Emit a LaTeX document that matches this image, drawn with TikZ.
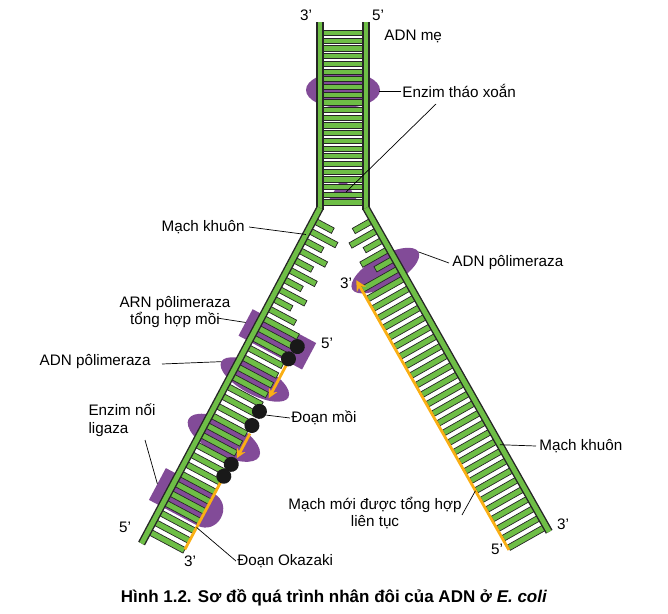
\documentclass[tikz,border=0pt]{standalone}
\usepackage{fontspec}
\setmainfont{Liberation Sans}
\usetikzlibrary{arrows.meta}
\definecolor{dnagreen}{RGB}{110,190,70}
\definecolor{enzpurple}{RGB}{130,75,152}
\definecolor{neworange}{RGB}{250,175,20}
\tikzset{
  rail/.style={line width=6.6pt, draw=black!85, postaction={draw=dnagreen, line width=4.2pt}},
  rung/.style={draw=black!85, line width=0.6pt, fill=dnagreen},
  enz/.style={fill=enzpurple},
  newline/.style={draw=neworange, line width=2.4pt},
  primer/.style={fill=black!90},
  lbl/.style={font=\fontsize{13}{15}\selectfont, inner sep=1pt},
  lead/.style={draw=black, line width=0.6pt}
}
\begin{document}
\begin{tikzpicture}[x=0.03cm, y=0.03cm]
        \useasboundingbox (0,0) rectangle (668,-614);
        % enzymes of the parent helix
        \fill[enz] (343,-90) ellipse (37 and 18);
        \fill[enz] (343,-176) -- (329,-200) -- (357,-200) -- cycle;
        \foreach \y in {33,40.7,...,204}{
          \draw[rung] (322,-\y+2.6) rectangle (364,-\y-2.6);
        }
        \draw[rail] (320,-22) -- (320,-210);
        \draw[rail] (366,-22) -- (366,-210);
        % lagging arm
        \begin{scope}[shift={(320,-208)}, rotate=242]
          \fill[enz] (121,-12) rectangle (151,60);
          \fill[enz] (182,23) ellipse (15 and 38);
          \fill[enz] (248,23) ellipse (17 and 40);
          \fill[enz] (302,-14) -- (302,40) .. controls (302,64) and (338,64) .. (338,40) -- (338,-14) -- cycle;
          \foreach \t in {14,25,...,370}{
            \pgfmathsetmacro{\len}{\t<120 ? (mod(\t,2)==0 ? 22 : 32) : 41}
            \draw[rung] (\t-3,0) rectangle (\t+3,\len);
          }
          \draw[rail] (0,0) -- (380,0);
          \draw[newline] (282,41) -- (365,41);
          \draw[newline, -{Stealth[length=8pt, width=8pt]}] (155,44) -- (192,44);
          \draw[newline, -{Stealth[length=8pt, width=8pt]}] (232,44) -- (260,44);
          \foreach \x/\y [count=\i] in {133/45,148/43,208/42,224/42,268/42,282/41}{
            \fill[primer] (\x,\y) circle (7.5);
          }
          \coordinate (polL) at (182,-15);
          \coordinate (rnapol) at (136,-12);
          \coordinate (ligase) at (320,-14);
          \coordinate (primerA) at (208,50);
          \coordinate (okazaki) at (340,41);
          \coordinate (templL) at (30,0);
        \end{scope}
        % leading arm
        \begin{scope}[shift={(366,-208)}, rotate=299.5]
          \fill[enz] (64,-14) ellipse (15 and 38);
          \foreach \t in {14,25,...,372}{
            \pgfmathsetmacro{\len}{\t<60 ? (mod(\t,2)==0 ? 22 : 32) : 43}
            \draw[rung] (\t-3,0) rectangle (\t+3,-\len);
          }
          \draw[rail] (0,0) -- (372,0);
          \draw[newline, {Stealth[length=9pt, width=9pt]}-] (58,-44) -- (368,-44);
          \coordinate (polR) at (64,24);
          \coordinate (templR) at (272,0);
          \coordinate (leading) at (300,-44);
        \end{scope}
        % labels
        \node[lbl] (p3top) at (306,-15) {3’};
        \node[lbl] (p5top) at (378,-15) {5’};
        \node[lbl, anchor=west] (parent) at (383,-36) {ADN mẹ};
        \node[lbl, anchor=west] (helicase) at (401,-91) {Enzim tháo xoắn};
        \draw[lead] (helicase.west) -- (379,-91);
        \draw[lead] (436,-104) -- (346,-192);
        \node[lbl, anchor=east] (templTop) at (246,-227) {Mạch khuôn};
        \draw[lead] (templTop.east) ++(3,0) -- (templL);
        \node[lbl, anchor=west] (polRlbl) at (451,-263) {ADN pôlimeraza};
        \draw[lead] (polRlbl.west) ++(-2,0) -- (polR);
        \node[lbl] (p3lead) at (346,-283) {3’};
        \node[lbl, align=center] (rnalbl) at (175,-312) {ARN pôlimeraza\\tổng hợp mồi};
        \draw[lead] (217,-318) -- (rnapol);
        \node[lbl] (p5mid) at (327,-343) {5’};
        \node[lbl, anchor=east] (polLlbl) at (152,-362) {ADN pôlimeraza};
        \draw[lead] (162,-364) -- (polL);
        \node[lbl, anchor=west] (primerlbl) at (290,-418) {Đoạn mồi};
        \draw[lead] (primerlbl.west) -- (primerA);
        \node[lbl, align=left] (ligaselbl) at (122,-420) {Enzim nối\\ligaza};
        \draw[lead] (145,-440) -- (ligase);
        \node[lbl, anchor=west] (templRlbl) at (538,-446) {Mạch khuôn};
        \draw[lead] (templRlbl.west) ++(-2,0) -- (templR);
        \node[lbl, align=center] (leadlbl) at (375,-513) {Mạch mới được tổng hợp\\liên tục};
        \draw[lead] (462,-515) -- (leading);
        \node[lbl] (p5L) at (125,-527) {5’};
        \node[lbl] (p3L) at (190,-561) {3’};
        \node[lbl, anchor=west] (okazakilbl) at (236,-561) {Đoạn Okazaki};
        \draw[lead] (okazakilbl.west) -- (okazaki);
        \node[lbl] (p3R) at (563,-524) {3’};
        \node[lbl] (p5R) at (497,-549) {5’};
        \node[font=\bfseries\fontsize{14.5}{16}\selectfont] (caption) at (334,-598) {Hình 1.2. Sơ đồ quá trình nhân đôi của ADN ở \textit{E. coli}};
      \end{tikzpicture}
\end{document}
